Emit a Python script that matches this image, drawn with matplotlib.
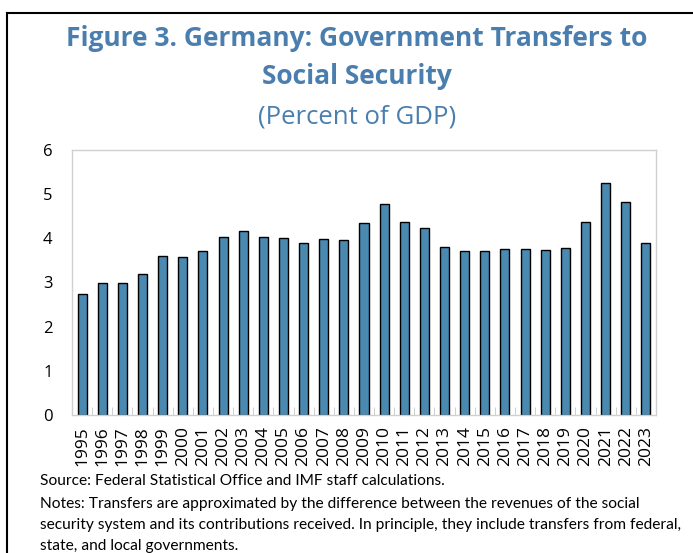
import matplotlib
matplotlib.use("Agg")
import matplotlib.pyplot as plt
from matplotlib.lines import Line2D
from matplotlib.ticker import MultipleLocator

years = [str(y) for y in range(1995, 2024)]
transfers = [2.75, 3.00, 3.00, 3.19, 3.61, 3.58, 3.71, 4.02, 4.17, 4.04,
             4.00, 3.89, 3.98, 3.96, 4.35, 4.77, 4.38, 4.24, 3.81, 3.71,
             3.71, 3.75, 3.75, 3.74, 3.77, 4.38, 5.25, 4.82, 3.89]

title_color = "#4a7eae"
bar_color = "#4a8ab0"

plt.rcParams['font.family'] = ['Open Sans', 'DejaVu Sans']

fig = plt.figure(figsize=(6.93, 5.53), dpi=100)
ax = fig.add_axes([72 / 693, 1 - 415 / 553, 584 / 693, 265 / 553])

x = range(len(years))
ax.bar(x, transfers, width=0.45, color=bar_color, edgecolor="black", linewidth=1.0)

ax.set_xlim(-0.5, len(years) - 0.5)
ax.set_ylim(0, 6)
ax.yaxis.set_major_locator(MultipleLocator(1))
ax.set_xticks(list(x))
ax.set_xticklabels(years, rotation=90, fontsize=12.5)
ax.tick_params(axis="x", length=0, pad=8)
ax.tick_params(axis="y", length=0, labelsize=12, pad=14)
ax.set_xticks([i + 0.5 for i in range(len(years) - 1)], minor=True)
ax.tick_params(axis="x", which="minor", direction="in", length=6, color="#c8c8c8")
for s in ax.spines.values():
    s.set_color("#d0d0d0")
    s.set_linewidth(1.0)

cx = 357 / 693
fig.text(cx, 1 - 38 / 553, "Figure 3. Germany: Government Transfers to",
         ha="center", va="center", fontsize=19, fontweight="bold", color=title_color)
fig.text(cx, 1 - 77 / 553, "Social Security",
         ha="center", va="center", fontsize=19, fontweight="bold", color=title_color)
fig.text(cx, 1 - 117 / 553, "(Percent of GDP)",
         ha="center", va="center", fontsize=18.5, color=title_color)

notes = ["Source: Federal Statistical Office and IMF staff calculations.",
         "Notes: Transfers are approximated by the difference between the revenues of the social",
         "security system and its contributions received. In principle, they include transfers from federal,",
         "state, and local governments."]
note_y = [481, 504, 525, 546]
for line, yy in zip(notes, note_y):
    fig.text(40 / 693, 1 - yy / 553, line, ha="left", va="center", fontsize=11.2,
             family=["Lato", "DejaVu Sans"])

# outer frame (top and left)
fig.add_artist(Line2D([7 / 693, 7 / 693], [0, 1 - 13 / 553], transform=fig.transFigure,
                      color="black", linewidth=1.5))
fig.add_artist(Line2D([7 / 693, 1], [1 - 13 / 553, 1 - 13 / 553], transform=fig.transFigure,
                      color="black", linewidth=1.5))

fig.savefig("out.png", dpi=100)
